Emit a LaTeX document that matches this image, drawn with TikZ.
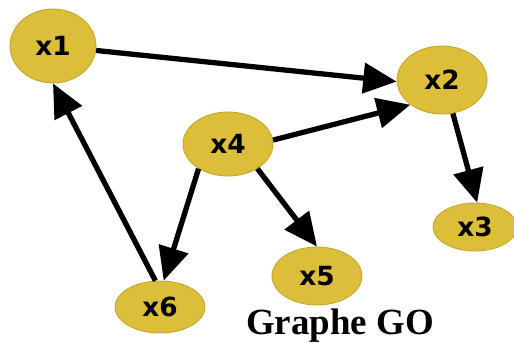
\documentclass[tikz,border=0pt]{standalone}
\usepackage{fontspec}
\setmainfont{Liberation Serif}
\newfontfamily\labelfont{DejaVu Sans}
\usetikzlibrary{shapes.geometric,arrows.meta}
\definecolor{goldfill}{RGB}{220,190,58}
\definecolor{golddraw}{RGB}{196,166,44}

\begin{document}
\begin{tikzpicture}[x=0.02cm, y=-0.02cm,
      vertex/.style={ellipse, draw=golddraw, fill=goldfill, line width=0.5pt,
                     minimum width=1.8cm, inner sep=0pt,
                     font=\labelfont\bfseries\fontsize{15}{15}\selectfont},
      title/.style={font=\bfseries\fontsize{21}{21}\selectfont, anchor=base},  ]

    \useasboundingbox (0,0) rectangle (514,342);

    % sommets
    \node[vertex, minimum width=1.72cm, minimum height=1.48cm] (x1) at ( 53, 46) {x1};
    \node[vertex, minimum height=1.36cm] (x2) at (442, 80) {x2};
    \node[vertex, minimum height=1.28cm] (x4) at (228,144) {x4};
    \node[vertex, minimum width=1.68cm, minimum height=0.96cm] (x3) at (475,227) {x3};
    \node[vertex, minimum height=1.16cm] (x5) at (317,276) {x5};
    \node[vertex, minimum height=1.04cm] (x6) at (160,307) {x6};

    % arcs
    \begin{scope}[line width=3pt, >={Triangle[length=19pt,width=17pt]}]
        \draw[->] (x1)      -- (x2.182);
        \draw[->] (x4.5)    -- (x2.218);
        \draw[->] (x2.-72)  -- (x3.85);
        \draw[->] (x4.-40)  -- (x5.north);
        \draw[->] (x4.-140) -- (x6.82);
        \draw[->] (x6.100)  -- (x1.south);
    \end{scope}

    \node[title] (name) at (340,334) {Graphe GO};

  \end{tikzpicture}
\end{document}
